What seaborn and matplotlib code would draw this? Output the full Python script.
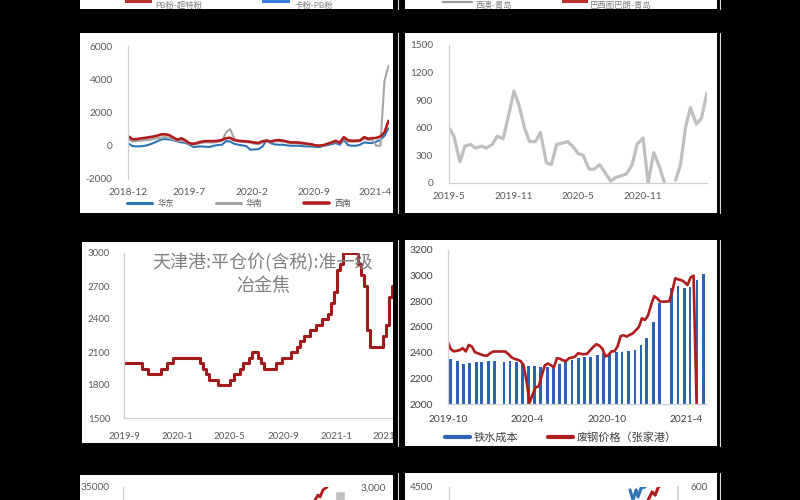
import numpy as np
import pandas as pd
import matplotlib
matplotlib.use("Agg")
import matplotlib.pyplot as plt
import matplotlib.dates as mdates
from matplotlib.lines import Line2D
from matplotlib.patches import Rectangle
import seaborn as sns

# ---------------------------------------------------------------- data
# top strip (cut-off legends of the charts above)
top_left_labels = ["PB粉-超特粉", "卡粉-PB粉"]
top_right_labels = ["西澳-青岛", "巴西图巴朗-青岛"]

# panel 1 (row 1, left): regional series, biweekly from 2018-12-03
p1_start = "2018-12-03"
p1_huadong = [120, -20, -40, -30, 0, 60, 150, 260, 370, 400,
              380, 330, 260, 200, 170, 60, -80, -50, -40, -60,
              -70, 0, 40, 60, 280, 260, 120, 60, 20, -20,
              -240, -220, -200, -40, 350, 150, 80, 60, 60, 20,
              0, 0, 0, -30, -40, -40, -70, -80, 0, 40,
              100, 160, 60, 360, 40, 0, 0, 60, 200, 170,
              160, 250, 350, 600, 1050]
p1_huanan = [400, 250, 280, 300, 330, 360, 400, 450, 500, 520,
             480, 380, 280, 300, 250, 100, 80, 120, 180, 200,
             200, 200, 230, 300, 800, 1000, 450, 260, 240, 220,
             180, 120, 100, 200, 320, 200, 260, 280, 250, 200,
             150, 150, 130, 100, 80, 50, 0, -20, 20, 100,
             170, 250, 150, 420, 250, 250, 260, 280, 420, 350,
             350, 0, 0, 3900, 4800]
p1_xinan = [560, 380, 400, 440, 470, 510, 550, 600, 680, 690,
            640, 500, 360, 450, 320, 150, 120, 180, 250, 280,
            280, 280, 300, 350, 450, 480, 340, 300, 280, 260,
            240, 190, 170, 270, 300, 250, 320, 340, 310, 250,
            200, 200, 190, 160, 120, 90, 20, 10, 40, 120,
            200, 300, 180, 520, 330, 300, 300, 320, 520, 420,
            460, 470, 560, 800, 1500]
p1_legend = ["华东", "华南", "西南"]
p1_tick_dates = ["2018-12-01", "2019-07-01", "2020-02-01", "2020-09-01", "2021-04-01"]
p1_tick_labels = ["2018-12", "2019-7", "2020-2", "2020-9", "2021-4"]
p1_yticks = [-2000, 0, 2000, 4000, 6000]

# panel 2 (row 1, right): semi-monthly from 2019-05-01, NaN = gap
p2_start = "2019-05-01"
p2_values = [600, 510, 230, 400, 420, 380, 400, 380, 420, 510,
             480, 700, 1000, 850, 600, 450, 450, 550, 220, 200,
             420, 430, 450, 400, 320, 300, 150, 150, 200, 120,
             20, 60, 80, 100, 200, 420, 490, 0, 330, 200,
             0, np.nan, 30, 200, 600, 820, 640, 700, 980]
p2_tick_dates = ["2019-05-01", "2019-11-01", "2020-05-01", "2020-11-01"]
p2_tick_labels = ["2019-5", "2019-11", "2020-5", "2020-11"]
p2_yticks = [0, 300, 600, 900, 1200, 1500]

# panel 3 (row 2, left): coke price, weekly from 2019-09-01
p3_title = "天津港:平仓价(含税):准一级\n冶金焦"
p3_start = "2019-09-01"
p3_values = [2000, 2000, 2000, 2000, 2000, 2000, 1950, 1950, 1900, 1900,
             1900, 1900, 1950, 1950, 2000, 2000, 2050, 2050, 2050, 2050,
             2050, 2050, 2050, 2050, 2050, 2000, 1950, 1900, 1850, 1850,
             1850, 1800, 1800, 1800, 1800, 1850, 1900, 1900, 1950, 2000,
             2000, 2050, 2100, 2100, 2050, 2000, 1950, 1950, 1950, 1950,
             2000, 2000, 2050, 2050, 2050, 2100, 2100, 2150, 2200, 2250,
             2250, 2300, 2300, 2350, 2350, 2400, 2400, 2450, 2550, 2650,
             2850, 2900, 3000, 3000, 3000, 3000, 3000, 2900, 2800, 2700,
             2300, 2150, 2150, 2150, 2150, 2250, 2350, 2600, 2700, 2850,
             2850]
p3_tick_dates = ["2019-09-01", "2020-01-01", "2020-05-01", "2020-09-01", "2021-01-01", "2021-05-01"]
p3_tick_labels = ["2019-9", "2020-1", "2020-5", "2020-9", "2021-1", "2021-5"]
p3_yticks = [1500, 1800, 2100, 2400, 2700, 3000]

# panel 4 (row 2, right): hot-metal cost (bars) and scrap price (line)
p4_bar_dates = ["2019-10-07", "2019-10-22", "2019-11-05", "2019-11-19", "2019-12-05",
                "2019-12-18", "2020-01-02", "2020-01-17", "2020-02-07", "2020-02-21",
                "2020-03-06", "2020-03-20", "2020-04-03", "2020-04-18", "2020-05-02",
                "2020-05-17", "2020-05-31", "2020-06-14", "2020-06-28", "2020-07-13",
                "2020-07-28", "2020-08-11", "2020-08-25", "2020-09-10", "2020-09-23",
                "2020-10-07", "2020-10-23", "2020-11-05", "2020-11-21", "2020-12-05",
                "2020-12-19", "2021-01-01", "2021-01-17", "2021-01-31", "2021-02-28",
                "2021-03-14", "2021-03-29", "2021-04-11", "2021-04-27", "2021-05-11"]
p4_bar_values = [2350, 2337, 2313, 2316, 2326, 2329, 2337, 2334, 2331, 2337,
                 2331, 2321, 2298, 2293, 2290, 2290, 2300, 2310, 2324, 2342,
                 2357, 2363, 2363, 2378, 2394, 2388, 2404, 2404, 2414, 2417,
                 2461, 2513, 2637, 2785, 2906, 2922, 2906, 2914, 2963, 3015]
p4_scrap_start = "2019-09-30"
p4_scrap_values = [2490, 2430, 2410, 2414, 2420, 2435, 2410, 2460, 2448, 2404,
                   2395, 2386, 2378, 2376, 2395, 2409, 2409, 2409, 2409, 2409,
                   2390, 2365, 2352, 2345, 2335, 2305, 2180, 2010, 2075, 2130,
                   2137, 2220, 2300, 2315, 2303, 2285, 2357, 2353, 2340, 2335,
                   2357, 2362, 2370, 2396, 2390, 2388, 2392, 2420, 2445, 2466,
                   2455, 2430, 2370, 2383, 2410, 2412, 2450, 2530, 2535, 2526,
                   2539, 2550, 2575, 2600, 2668, 2655, 2690, 2770, 2840, 2824,
                   2798, 2798, 2798, 2800, 2880, 2980, 2970, 2965, 2950, 2927,
                   2985, 3000, 2000]
p4_legend = ["铁水成本", "废钢价格（张家港）"]
p4_tick_dates = ["2019-10-01", "2020-04-01", "2020-10-01", "2021-04-01"]
p4_tick_labels = ["2019-10", "2020-4", "2020-10", "2021-4"]
p4_yticks = [2000, 2200, 2400, 2600, 2800, 3000, 3200]

# row 3 fragments (only the top of these charts is visible)
p5_red_dates = ["2020-12-29", "2021-01-10", "2021-01-21", "2021-01-29", "2021-02-09", "2021-02-25"]
p5_red_values = [32000, 32860, 33690, 33360, 34500, 35000]
p5_bar_dates = ["2021-04-16"]
p5_bar_values = [2950]
p6_blue_dates = ["2020-12-22", "2021-01-03", "2021-01-15", "2021-01-23", "2021-02-04", "2021-02-20"]
p6_blue_values = [4437, 4225, 4437, 4289, 4479, 4500]
p6_red_dates = ["2021-03-04", "2021-03-20", "2021-04-01", "2021-04-13", "2021-04-21"]
p6_red_values = [563, 586, 577, 598, 605]

# ---------------------------------------------------------------- style
sns.set_theme(style="white")
plt.rcParams["font.family"] = ["Lato", "Noto Sans CJK SC", "DejaVu Sans"]
plt.rcParams["axes.unicode_minus"] = False

W, H = 800, 500
TXT = "#595959"
TXT2 = "#404040"
AXC = "#d0d0d0"
BLUE = "#2e75b6"
GRAY = "#a6a6a6"
LGRAY = "#bfbfbf"
RED = "#b01c1c"
DRED = "#a31a1a"
BARBLUE = "#2e62b5"

fig = plt.figure(figsize=(8, 5), dpi=100, facecolor="black")


def rect(x0, y0, x1, y1):
    return [x0 / W, 1 - y1 / H, (x1 - x0) / W, (y1 - y0) / H]


def panel(x0, y0, x1, y1, color="white", z=-10):
    fig.add_artist(Rectangle((x0 / W, 1 - y1 / H), (x1 - x0) / W, (y1 - y0) / H,
                             transform=fig.transFigure, fc=color, ec="none", zorder=z))


def vline(x, y0, y1, color="#d8d8d8", lw=0.8, z=12):
    fig.add_artist(Line2D([x / W, x / W], [1 - y0 / H, 1 - y1 / H],
                          transform=fig.transFigure, color=color, lw=lw, zorder=z))


def dnum(dates):
    return mdates.date2num(pd.to_datetime(dates))


def style(ax, ylim, yticks, ylabels, ypad, xlim, xticks, xlabels, xpad, fs,
          color=TXT, bottom=True):
    ax.set_facecolor("none")
    ax.grid(False)
    ax.spines["top"].set_visible(False)
    ax.spines["right"].set_visible(False)
    ax.spines["left"].set_color(AXC)
    ax.spines["left"].set_linewidth(0.9)
    ax.spines["bottom"].set_visible(bottom)
    ax.spines["bottom"].set_color(AXC)
    ax.spines["bottom"].set_linewidth(0.9)
    ax.set_ylim(*ylim)
    ax.set_yticks(yticks, ylabels)
    ax.set_xlim(*xlim)
    ax.set_xticks(xticks, xlabels)
    ax.tick_params(axis="y", length=0, pad=ypad, labelsize=fs, labelcolor=color)
    ax.tick_params(axis="x", length=0, pad=xpad, labelsize=fs, labelcolor=color)
    ax.set_xlabel("")
    ax.set_ylabel("")


# white panels
for b in [(80, -5, 393, 9), (405, -5, 717, 9),
          (80, 33, 393, 213), (405, 33, 717, 213),
          (82, 242, 393, 443), (405, 240, 717, 446),
          (80, 475, 393, 505), (405, 473, 717, 505)]:
    panel(*b)

# ---------------------------------------------------------------- top strip
fig.add_artist(Rectangle((125 / W, 1 - 3 / H), 27 / W, 6 / H, transform=fig.transFigure,
                         fc="#c0302b", ec="none"))
fig.text(155 / W, 1 - 4.6 / H, top_left_labels[0], ha="left", va="center", fontsize=6.0, color="#7f7f7f")
fig.add_artist(Rectangle((262 / W, 1 - 3 / H), 28 / W, 6 / H, transform=fig.transFigure,
                         fc="#3b7dd8", ec="none"))
fig.text(295 / W, 1 - 4.6 / H, top_left_labels[1], ha="left", va="center", fontsize=6.0, color="#7f7f7f")
fig.add_artist(Line2D([443 / W, 472 / W], [1 - 1.5 / H, 1 - 1.5 / H], transform=fig.transFigure,
                      color="#9a9a9a", lw=1.6))
fig.text(475 / W, 1 - 4.6 / H, top_right_labels[0], ha="left", va="center", fontsize=6.0, color="#7f7f7f")
fig.add_artist(Rectangle((562 / W, 1 - 3 / H), 26 / W, 6 / H, transform=fig.transFigure,
                         fc="#c0302b", ec="none"))
fig.text(590 / W, 1 - 4.6 / H, top_right_labels[1], ha="left", va="center", fontsize=6.0, color="#7f7f7f")

# ---------------------------------------------------------------- panel 1
p1_x = dnum(pd.date_range(p1_start, periods=len(p1_huadong), freq="14D"))
ax1 = fig.add_axes(rect(128, 46, 388.5, 179))
sns.lineplot(x=p1_x, y=p1_huadong, color=BLUE, lw=1.5, estimator=None, ax=ax1)
sns.lineplot(x=p1_x, y=p1_huanan, color=GRAY, lw=1.5, estimator=None, ax=ax1)
sns.lineplot(x=p1_x, y=p1_xinan, color=RED, lw=1.9, estimator=None, ax=ax1)
style(ax1, (-2000, 6000), p1_yticks, [str(v) for v in p1_yticks], 11,
      (dnum(["2018-12-01"])[0], p1_x[-1]), dnum(p1_tick_dates), p1_tick_labels, 6.5, 7.3,
      bottom=False)
h1 = [Line2D([], [], color=BLUE, lw=2.2), Line2D([], [], color=GRAY, lw=2.2),
      Line2D([], [], color=RED, lw=2.6)]
ax1.legend(h1, p1_legend, loc="center", bbox_to_anchor=(0.426, -0.18), ncol=3, frameon=False,
           fontsize=6, handlelength=3.0, handletextpad=0.6, columnspacing=5.0, labelcolor=TXT)

# ---------------------------------------------------------------- panel 2
p2_x = dnum(pd.date_range(p2_start, periods=len(p2_values), freq="SMS"))
p2_df = pd.DataFrame({"x": p2_x, "v": p2_values})
p2_df["seg"] = p2_df["v"].isna().cumsum()
p2_df = p2_df.dropna()
ax2 = fig.add_axes(rect(449, 45, 707, 183))
sns.lineplot(data=p2_df, x="x", y="v", units="seg", estimator=None, color=LGRAY, lw=2.3, ax=ax2)
style(ax2, (0, 1500), p2_yticks, [str(v) for v in p2_yticks], 11.5,
      (p2_x[0], p2_x[-1]), dnum(p2_tick_dates), p2_tick_labels, 6.5, 7.2)

# ---------------------------------------------------------------- panel 3
p3_x = dnum(pd.date_range(p3_start, periods=len(p3_values), freq="7D"))
ax3 = fig.add_axes(rect(124, 253, 400, 418))
sns.lineplot(x=p3_x, y=p3_values, color=DRED, lw=2.2, estimator=None,
             drawstyle="steps-post", ax=ax3)
style(ax3, (1500, 3000), p3_yticks, [str(v) for v in p3_yticks], 10,
      (p3_x[0], dnum(["2021-05-28"])[0]), dnum(p3_tick_dates), p3_tick_labels, 8.5, 7.0)
ax3.tick_params(axis="x", length=3, width=0.8, color=AXC, direction="inout")
fig.text(263 / W, 1 - 274.5 / H, p3_title, ha="center", va="center", multialignment="center",
         fontsize=13, color="#808080", linespacing=1.35,
         family=["Noto Sans CJK SC", "DejaVu Sans"])

# ---------------------------------------------------------------- panel 4
p4_bx = dnum(p4_bar_dates)
p4_sx = dnum(pd.date_range(p4_scrap_start, periods=len(p4_scrap_values), freq="7D"))
ax4 = fig.add_axes(rect(448, 250, 707, 404))
ax4.bar(p4_bx, p4_bar_values, width=6.5, color=BARBLUE, edgecolor="none")
sns.lineplot(x=p4_sx, y=p4_scrap_values, color=RED, lw=1.9, estimator=None, ax=ax4)
style(ax4, (2000, 3200), p4_yticks, [str(v) for v in p4_yticks], 11,
      (dnum(["2019-10-01"])[0], dnum(["2021-05-20"])[0]), dnum(p4_tick_dates), p4_tick_labels,
      8, 7.4, color=TXT2)
h4 = [Line2D([], [], color=BARBLUE, lw=3), Line2D([], [], color=RED, lw=3)]
ax4.legend(h4, p4_legend, loc="center", bbox_to_anchor=(0.436, -0.214), ncol=2, frameon=False,
           fontsize=8, handlelength=2.25, handletextpad=0.35, columnspacing=2.7, labelcolor=TXT2)

# ---------------------------------------------------------------- row 3 fragments
ax5 = fig.add_axes(rect(123, 487, 352, 700))
sns.lineplot(x=dnum(p5_red_dates), y=p5_red_values, color=RED, lw=2.0, estimator=None, ax=ax5)
style(ax5, (0, 35000), [35000], ["35000"], 9.5,
      (dnum(["2019-01-01"])[0], dnum(["2021-06-01"])[0]), [], [], 5, 7.3, bottom=False)
ax5b = ax5.twinx()
ax5b.bar(dnum(p5_bar_dates), p5_bar_values, width=38, color=LGRAY)
ax5b.set_ylim(0, 3000)
ax5b.set_yticks([3000], ["3,000"])
ax5b.tick_params(axis="y", length=0, pad=6, labelsize=7.3, labelcolor=TXT)
ax5b.grid(False)
for s in ax5b.spines.values():
    s.set_visible(False)
ax5b.set_facecolor("none")

ax6 = fig.add_axes(rect(449, 487, 678, 700))
sns.lineplot(x=dnum(p6_blue_dates), y=p6_blue_values, color=BLUE, lw=2.2, estimator=None, ax=ax6)
style(ax6, (0, 4500), [4500], ["4500"], 11.5,
      (dnum(["2019-01-01"])[0], dnum(["2021-07-01"])[0]), [], [], 5, 7.3, bottom=False)
ax6b = ax6.twinx()
sns.lineplot(x=dnum(p6_red_dates), y=p6_red_values, color=RED, lw=2.2, estimator=None, ax=ax6b)
ax6b.set_ylim(0, 600)
ax6b.set_yticks([600], ["600"])
ax6b.set_ylabel("")
ax6b.tick_params(axis="y", length=0, pad=9, labelsize=7.3, labelcolor=TXT)
ax6b.grid(False)
for k, s in ax6b.spines.items():
    s.set_visible(k == "right")
ax6b.spines["right"].set_color(AXC)
ax6b.set_facecolor("none")

# ---------------------------------------------------------------- collage gaps / borders
panel(393, -5, 405, 505, color="black", z=10)
for y0, y1 in [(0, 9), (33, 213), (240, 446), (473, 500)]:
    vline(397.5, y0, y1)
    vline(720, y0, y1)

fig.savefig("out.png", dpi=100, facecolor="black")
